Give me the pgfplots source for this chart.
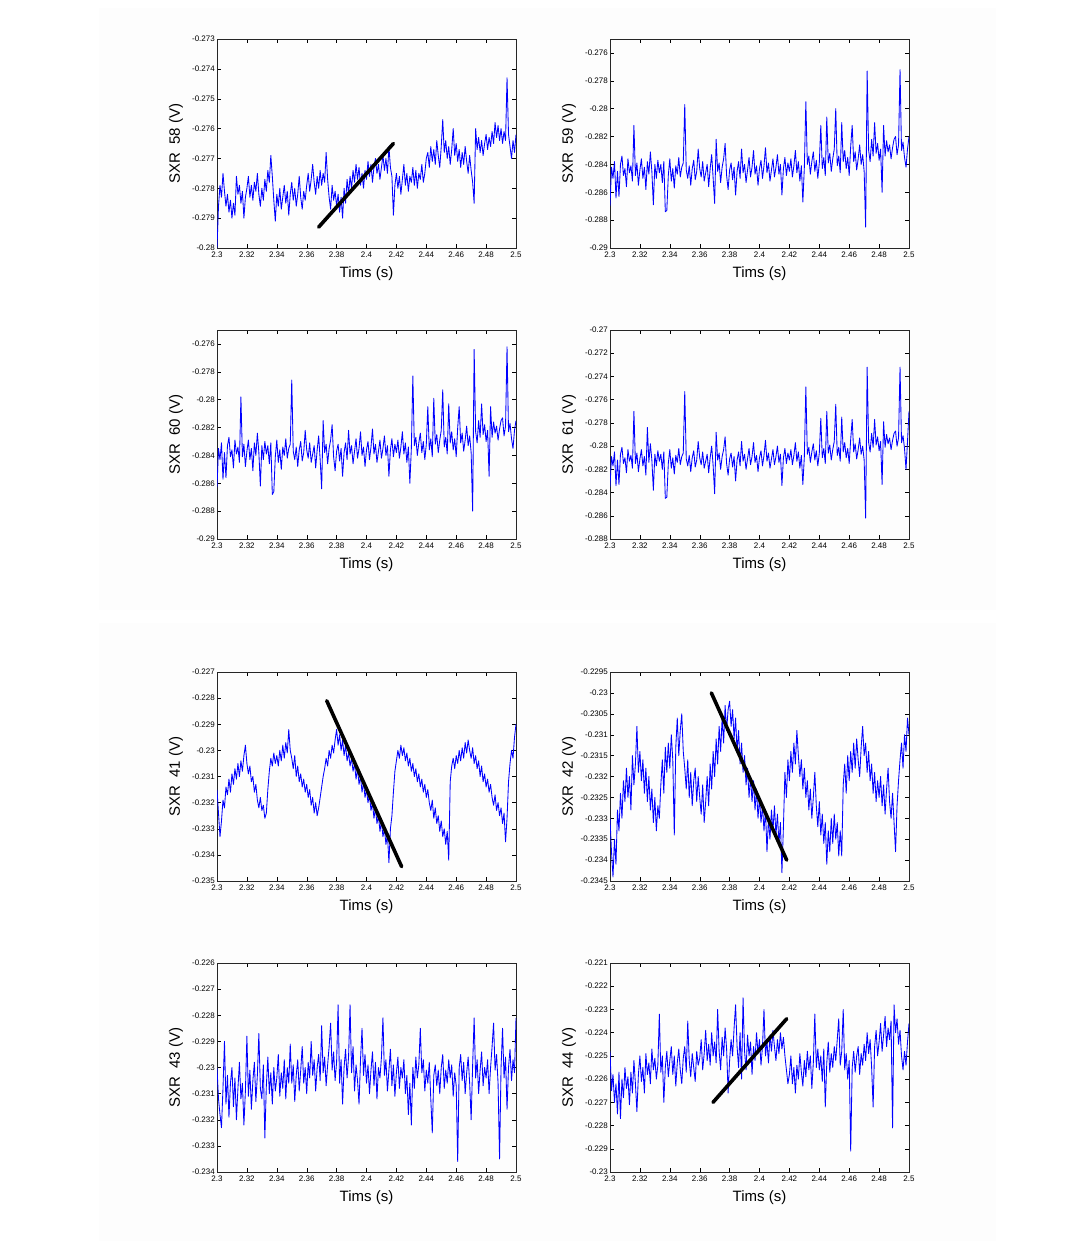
\documentclass[border=0pt]{standalone}
\usepackage{fontspec}
\setmainfont{Liberation Sans}
\usepackage{pgfplots}
\usepackage{pgfplotstable}
\pgfplotsset{compat=1.18}
\definecolor{bgc}{RGB}{253,253,253}
\definecolor{mblue}{RGB}{0,0,255}
\pgfplotstableread{
t s58 s59 s60 s61 s41 s42 s43 s44
2.300 -.2800 -.2870 -.2863 -.2835 -.2315 -.2330 -.2300 -.2248
2.301 -.2786 -.2842 -.2835 -.2809 -.2324 -.2338 -.2312 -.2265
2.302 -.2779 -.2850 -.2843 -.2817 -.2333 -.2344 -.2318 -.2258
2.303 -.2783 -.2838 -.2831 -.2805 -.2327 -.2335 -.2323 -.2270
2.304 -.2775 -.2864 -.2857 -.2834 -.2319 -.2341 -.2308 -.2262
2.305 -.2781 -.2845 -.2838 -.2812 -.2322 -.2328 -.2290 -.2275
2.306 -.2786 -.2863 -.2856 -.2833 -.2314 -.2333 -.2314 -.2257
2.307 -.2782 -.2840 -.2833 -.2807 -.2317 -.2324 -.2303 -.2277
2.308 -.2788 -.2834 -.2827 -.2801 -.2311 -.2330 -.2319 -.2260
2.309 -.2784 -.2848 -.2841 -.2815 -.2316 -.2321 -.2306 -.2268
2.310 -.2790 -.2843 -.2836 -.2810 -.2309 -.2326 -.2300 -.2255
2.311 -.2785 -.2856 -.2849 -.2823 -.2313 -.2318 -.2315 -.2264
2.312 -.2789 -.2836 -.2829 -.2803 -.2307 -.2325 -.2304 -.2259
2.313 -.2776 -.2846 -.2839 -.2813 -.2311 -.2320 -.2320 -.2271
2.314 -.2782 -.2841 -.2834 -.2808 -.2305 -.2328 -.2308 -.2257
2.315 -.2779 -.2852 -.2845 -.2819 -.2310 -.2315 -.2298 -.2266
2.316 -.2785 -.2812 -.2798 -.2770 -.2304 -.2322 -.2312 -.2252
2.317 -.2781 -.2848 -.2841 -.2815 -.2308 -.2317 -.2306 -.2262
2.318 -.2790 -.2839 -.2832 -.2806 -.2302 -.2308 -.2322 -.2274
2.319 -.2783 -.2855 -.2848 -.2822 -.2298 -.2319 -.2309 -.2258
2.320 -.2780 -.2844 -.2837 -.2811 -.2305 -.2314 -.2288 -.2250
2.321 -.2776 -.2836 -.2829 -.2803 -.2309 -.2321 -.2311 -.2261
2.322 -.2783 -.2850 -.2843 -.2817 -.2306 -.2316 -.2301 -.2255
2.323 -.2779 -.2842 -.2835 -.2809 -.2312 -.2324 -.2316 -.2266
2.324 -.2784 -.2858 -.2851 -.2825 -.2310 -.2318 -.2305 -.2249
2.325 -.2778 -.2838 -.2831 -.2784 -.2316 -.2326 -.2298 -.2258
2.326 -.2781 -.2847 -.2840 -.2814 -.2313 -.2320 -.2313 -.2253
2.327 -.2775 -.2831 -.2824 -.2798 -.2319 -.2328 -.2303 -.2262
2.328 -.2782 -.2845 -.2838 -.2812 -.2322 -.2323 -.2287 -.2247
2.329 -.2786 -.2869 -.2862 -.2838 -.2318 -.2331 -.2308 -.2256
2.330 -.2780 -.2840 -.2833 -.2807 -.2323 -.2325 -.2312 -.2251
2.331 -.2784 -.2850 -.2843 -.2817 -.2321 -.2333 -.2299 -.2260
2.332 -.2777 -.2837 -.2830 -.2804 -.2326 -.2327 -.2327 -.2254
2.333 -.2781 -.2846 -.2839 -.2813 -.2324 -.2330 -.2307 -.2232
2.334 -.2774 -.2840 -.2833 -.2807 -.2315 -.2322 -.2296 -.2257
2.335 -.2778 -.2853 -.2846 -.2820 -.2308 -.2316 -.2310 -.2250
2.336 -.2769 -.2838 -.2831 -.2805 -.2303 -.2324 -.2302 -.2270
2.337 -.2776 -.2874 -.2868 -.2845 -.2306 -.2313 -.2314 -.2255
2.338 -.2784 -.2873 -.2866 -.2844 -.2301 -.2319 -.2300 -.2248
2.339 -.2791 -.2848 -.2841 -.2815 -.2305 -.2312 -.2309 -.2259
2.340 -.2782 -.2836 -.2829 -.2803 -.2302 -.2318 -.2304 -.2252
2.341 -.2786 -.2852 -.2845 -.2819 -.2306 -.2310 -.2295 -.2246
2.342 -.2780 -.2843 -.2836 -.2810 -.2300 -.2316 -.2311 -.2258
2.343 -.2787 -.2857 -.2850 -.2824 -.2304 -.2334 -.2302 -.2250
2.344 -.2783 -.2841 -.2834 -.2808 -.2298 -.2313 -.2308 -.2263
2.345 -.2779 -.2847 -.2840 -.2814 -.2303 -.2306 -.2297 -.2253
2.346 -.2785 -.2835 -.2828 -.2802 -.2297 -.2315 -.2312 -.2247
2.347 -.2781 -.2849 -.2842 -.2816 -.2301 -.2309 -.2300 -.2256
2.348 -.2789 -.2842 -.2835 -.2809 -.2292 -.2305 -.2306 -.2262
2.349 -.2782 -.2839 -.2832 -.2806 -.2300 -.2314 -.2291 -.2251
2.350 -.2778 -.2797 -.2786 -.2753 -.2303 -.2318 -.2306 -.2246
2.351 -.2784 -.2844 -.2837 -.2811 -.2307 -.2323 -.2299 -.2257
2.352 -.2780 -.2850 -.2843 -.2817 -.2302 -.2316 -.2313 -.2235
2.353 -.2786 -.2841 -.2834 -.2808 -.2310 -.2325 -.2303 -.2252
2.354 -.2782 -.2855 -.2848 -.2822 -.2306 -.2319 -.2297 -.2259
2.355 -.2776 -.2843 -.2836 -.2810 -.2312 -.2327 -.2309 -.2249
2.356 -.2783 -.2837 -.2830 -.2804 -.2309 -.2321 -.2301 -.2255
2.357 -.2787 -.2851 -.2844 -.2818 -.2314 -.2318 -.2292 -.2261
2.358 -.2781 -.2845 -.2838 -.2812 -.2311 -.2326 -.2306 -.2248
2.359 -.2784 -.2829 -.2822 -.2796 -.2316 -.2320 -.2300 -.2254
2.360 -.2779 -.2843 -.2836 -.2810 -.2313 -.2325 -.2310 -.2251
2.361 -.2775 -.2849 -.2842 -.2816 -.2318 -.2329 -.2298 -.2243
2.362 -.2781 -.2838 -.2831 -.2805 -.2315 -.2322 -.2304 -.2256
2.363 -.2777 -.2852 -.2845 -.2819 -.2321 -.2331 -.2290 -.2249
2.364 -.2772 -.2846 -.2839 -.2813 -.2318 -.2326 -.2303 -.2239
2.365 -.2778 -.2840 -.2833 -.2807 -.2324 -.2320 -.2297 -.2252
2.366 -.2782 -.2856 -.2849 -.2823 -.2320 -.2327 -.2309 -.2245
2.367 -.2776 -.2843 -.2836 -.2810 -.2325 -.2317 -.2300 -.2254
2.368 -.2780 -.2833 -.2826 -.2800 -.2322 -.2323 -.2295 -.2240
2.369 -.2774 -.2850 -.2843 -.2817 -.2318 -.2314 -.2305 -.2250
2.370 -.2779 -.2868 -.2864 -.2841 -.2314 -.2320 -.2284 -.2244
2.371 -.2775 -.2822 -.2815 -.2788 -.2310 -.2311 -.2302 -.2253
2.372 -.2778 -.2845 -.2838 -.2812 -.2307 -.2317 -.2296 -.2230
2.373 -.2768 -.2839 -.2832 -.2806 -.2303 -.2308 -.2307 -.2248
2.374 -.2777 -.2853 -.2846 -.2820 -.2306 -.2314 -.2299 -.2256
2.375 -.2783 -.2842 -.2835 -.2809 -.2300 -.2306 -.2292 -.2242
2.376 -.2787 -.2836 -.2829 -.2803 -.2303 -.2312 -.2283 -.2250
2.377 -.2779 -.2825 -.2818 -.2792 -.2298 -.2303 -.2301 -.2238
2.378 -.2784 -.2848 -.2841 -.2815 -.2301 -.2309 -.2294 -.2247
2.379 -.2781 -.2858 -.2851 -.2825 -.2296 -.2304 -.2305 -.2266
2.380 -.2786 -.2844 -.2837 -.2811 -.2292 -.2302 -.2298 -.2252
2.381 -.2782 -.2839 -.2832 -.2806 -.2298 -.2308 -.2276 -.2243
2.382 -.2788 -.2851 -.2844 -.2818 -.2294 -.2304 -.2306 -.2250
2.383 -.2783 -.2842 -.2835 -.2809 -.2300 -.2311 -.2297 -.2238
2.384 -.2790 -.2862 -.2855 -.2830 -.2296 -.2306 -.2314 -.2228
2.385 -.2780 -.2845 -.2838 -.2812 -.2302 -.2314 -.2300 -.2246
2.386 -.2785 -.2838 -.2831 -.2805 -.2298 -.2309 -.2293 -.2255
2.387 -.2777 -.2850 -.2843 -.2817 -.2304 -.2317 -.2304 -.2240
2.388 -.2782 -.2829 -.2822 -.2796 -.2301 -.2312 -.2296 -.2260
2.389 -.2776 -.2846 -.2839 -.2813 -.2306 -.2319 -.2276 -.2225
2.390 -.2780 -.2840 -.2833 -.2807 -.2303 -.2315 -.2302 -.2248
2.391 -.2774 -.2853 -.2846 -.2820 -.2308 -.2322 -.2292 -.2256
2.392 -.2778 -.2844 -.2837 -.2811 -.2305 -.2318 -.2309 -.2241
2.393 -.2772 -.2835 -.2828 -.2802 -.2311 -.2325 -.2299 -.2250
2.394 -.2777 -.2849 -.2842 -.2816 -.2307 -.2320 -.2305 -.2244
2.395 -.2773 -.2842 -.2835 -.2809 -.2313 -.2326 -.2314 -.2258
2.396 -.2779 -.2830 -.2823 -.2797 -.2310 -.2321 -.2297 -.2246
2.397 -.2775 -.2847 -.2840 -.2814 -.2316 -.2328 -.2285 -.2252
2.398 -.2780 -.2841 -.2834 -.2808 -.2312 -.2323 -.2303 -.2240
2.399 -.2774 -.2855 -.2848 -.2822 -.2318 -.2330 -.2295 -.2249
2.400 -.2777 -.2843 -.2836 -.2810 -.2315 -.2325 -.2306 -.2243
2.401 -.2771 -.2837 -.2830 -.2804 -.2320 -.2331 -.2299 -.2254
2.402 -.2776 -.2850 -.2843 -.2817 -.2317 -.2327 -.2310 -.2246
2.403 -.2772 -.2841 -.2834 -.2808 -.2323 -.2333 -.2301 -.2230
2.404 -.2778 -.2828 -.2821 -.2795 -.2320 -.2328 -.2294 -.2250
2.405 -.2773 -.2846 -.2839 -.2813 -.2326 -.2338 -.2307 -.2244
2.406 -.2770 -.2839 -.2832 -.2806 -.2322 -.2330 -.2298 -.2253
2.407 -.2775 -.2852 -.2845 -.2819 -.2328 -.2335 -.2312 -.2241
2.408 -.2772 -.2844 -.2837 -.2811 -.2325 -.2328 -.2300 -.2248
2.409 -.2777 -.2836 -.2829 -.2803 -.2331 -.2333 -.2304 -.2239
2.410 -.2773 -.2849 -.2842 -.2816 -.2327 -.2327 -.2296 -.2246
2.411 -.2769 -.2842 -.2835 -.2809 -.2333 -.2334 -.2281 -.2252
2.412 -.2774 -.2833 -.2826 -.2800 -.2330 -.2329 -.2303 -.2243
2.413 -.2770 -.2847 -.2840 -.2814 -.2336 -.2336 -.2297 -.2249
2.414 -.2775 -.2840 -.2833 -.2807 -.2332 -.2331 -.2309 -.2240
2.415 -.2766 -.2862 -.2855 -.2834 -.2343 -.2343 -.2301 -.2247
2.416 -.2773 -.2843 -.2836 -.2810 -.2330 -.2332 -.2293 -.2242
2.417 -.2776 -.2835 -.2828 -.2802 -.2325 -.2319 -.2307 -.2250
2.418 -.2789 -.2848 -.2841 -.2815 -.2316 -.2325 -.2299 -.2256
2.419 -.2779 -.2839 -.2832 -.2806 -.2308 -.2316 -.2311 -.2262
2.420 -.2775 -.2845 -.2838 -.2812 -.2304 -.2321 -.2302 -.2258
2.421 -.2780 -.2836 -.2829 -.2803 -.2300 -.2314 -.2296 -.2250
2.422 -.2776 -.2849 -.2842 -.2816 -.2303 -.2319 -.2308 -.2262
2.423 -.2782 -.2841 -.2834 -.2808 -.2298 -.2312 -.2300 -.2255
2.424 -.2777 -.2830 -.2823 -.2797 -.2302 -.2317 -.2304 -.2266
2.425 -.2772 -.2846 -.2839 -.2813 -.2299 -.2309 -.2297 -.2254
2.426 -.2779 -.2838 -.2831 -.2805 -.2304 -.2315 -.2310 -.2260
2.427 -.2775 -.2852 -.2845 -.2819 -.2301 -.2320 -.2303 -.2249
2.428 -.2781 -.2841 -.2834 -.2808 -.2306 -.2316 -.2318 -.2257
2.429 -.2776 -.2867 -.2860 -.2833 -.2303 -.2323 -.2306 -.2263
2.430 -.2778 -.2842 -.2835 -.2809 -.2308 -.2318 -.2322 -.2252
2.431 -.2773 -.2795 -.2783 -.2749 -.2305 -.2325 -.2300 -.2259
2.432 -.2779 -.2840 -.2833 -.2807 -.2310 -.2321 -.2308 -.2248
2.433 -.2774 -.2834 -.2827 -.2801 -.2307 -.2328 -.2296 -.2256
2.434 -.2780 -.2847 -.2840 -.2814 -.2312 -.2323 -.2304 -.2250
2.435 -.2775 -.2838 -.2831 -.2805 -.2309 -.2330 -.2299 -.2264
2.436 -.2777 -.2831 -.2824 -.2798 -.2314 -.2325 -.2285 -.2253
2.437 -.2772 -.2845 -.2838 -.2812 -.2311 -.2319 -.2302 -.2232
2.438 -.2778 -.2837 -.2830 -.2804 -.2316 -.2327 -.2297 -.2255
2.439 -.2775 -.2850 -.2843 -.2817 -.2313 -.2332 -.2309 -.2247
2.440 -.2770 -.2839 -.2832 -.2806 -.2318 -.2326 -.2301 -.2256
2.441 -.2768 -.2812 -.2805 -.2776 -.2315 -.2334 -.2306 -.2250
2.442 -.2773 -.2843 -.2836 -.2810 -.2320 -.2329 -.2298 -.2261
2.443 -.2766 -.2835 -.2828 -.2802 -.2323 -.2336 -.2312 -.2247
2.444 -.2771 -.2848 -.2841 -.2815 -.2319 -.2331 -.2325 -.2272
2.445 -.2767 -.2806 -.2799 -.2770 -.2326 -.2341 -.2303 -.2253
2.446 -.2772 -.2839 -.2832 -.2806 -.2322 -.2333 -.2299 -.2244
2.447 -.2764 -.2832 -.2825 -.2799 -.2328 -.2338 -.2307 -.2257
2.448 -.2769 -.2845 -.2838 -.2812 -.2325 -.2330 -.2301 -.2249
2.449 -.2773 -.2836 -.2829 -.2803 -.2331 -.2336 -.2310 -.2255
2.450 -.2766 -.2829 -.2822 -.2796 -.2327 -.2329 -.2300 -.2246
2.451 -.2757 -.2800 -.2793 -.2764 -.2333 -.2335 -.2295 -.2252
2.452 -.2768 -.2841 -.2834 -.2808 -.2330 -.2331 -.2308 -.2243
2.453 -.2764 -.2834 -.2827 -.2801 -.2336 -.2339 -.2301 -.2234
2.454 -.2770 -.2846 -.2839 -.2813 -.2331 -.2333 -.2306 -.2254
2.455 -.2766 -.2810 -.2803 -.2775 -.2342 -.2339 -.2297 -.2248
2.456 -.2772 -.2838 -.2831 -.2805 -.2312 -.2322 -.2304 -.2230
2.457 -.2767 -.2830 -.2823 -.2797 -.2306 -.2317 -.2299 -.2256
2.458 -.2760 -.2843 -.2836 -.2810 -.2303 -.2324 -.2311 -.2249
2.459 -.2769 -.2835 -.2828 -.2802 -.2307 -.2315 -.2302 -.2260
2.460 -.2765 -.2848 -.2841 -.2815 -.2302 -.2321 -.2307 -.2252
2.461 -.2771 -.2827 -.2820 -.2794 -.2305 -.2314 -.2336 -.2291
2.462 -.2767 -.2812 -.2805 -.2777 -.2300 -.2319 -.2300 -.2255
2.463 -.2773 -.2838 -.2831 -.2805 -.2304 -.2312 -.2295 -.2248
2.464 -.2768 -.2831 -.2824 -.2798 -.2299 -.2318 -.2305 -.2257
2.465 -.2772 -.2844 -.2837 -.2811 -.2303 -.2311 -.2298 -.2250
2.466 -.2766 -.2836 -.2829 -.2803 -.2297 -.2316 -.2310 -.2246
2.467 -.2771 -.2826 -.2819 -.2793 -.2301 -.2320 -.2302 -.2258
2.468 -.2775 -.2840 -.2833 -.2807 -.2296 -.2313 -.2296 -.2249
2.469 -.2769 -.2833 -.2826 -.2800 -.2300 -.2308 -.2306 -.2254
2.470 -.2774 -.2845 -.2838 -.2812 -.2303 -.2315 -.2320 -.2245
2.471 -.2778 -.2885 -.2880 -.2862 -.2299 -.2312 -.2299 -.2252
2.472 -.2785 -.2773 -.2764 -.2732 -.2305 -.2319 -.2281 -.2240
2.473 -.2760 -.2830 -.2823 -.2797 -.2302 -.2314 -.2304 -.2249
2.474 -.2767 -.2838 -.2831 -.2805 -.2307 -.2321 -.2297 -.2243
2.475 -.2763 -.2822 -.2815 -.2789 -.2304 -.2317 -.2310 -.2255
2.476 -.2768 -.2834 -.2827 -.2801 -.2310 -.2324 -.2301 -.2272
2.477 -.2764 -.2810 -.2803 -.2777 -.2306 -.2319 -.2294 -.2246
2.478 -.2769 -.2832 -.2825 -.2799 -.2312 -.2326 -.2307 -.2239
2.479 -.2765 -.2825 -.2818 -.2792 -.2309 -.2321 -.2300 -.2250
2.480 -.2762 -.2837 -.2830 -.2804 -.2314 -.2325 -.2304 -.2244
2.481 -.2767 -.2829 -.2822 -.2796 -.2311 -.2320 -.2297 -.2236
2.482 -.2763 -.2860 -.2855 -.2833 -.2316 -.2327 -.2310 -.2248
2.483 -.2766 -.2812 -.2805 -.2779 -.2313 -.2322 -.2300 -.2241
2.484 -.2761 -.2834 -.2827 -.2801 -.2318 -.2329 -.2292 -.2233
2.485 -.2765 -.2823 -.2816 -.2790 -.2321 -.2323 -.2283 -.2246
2.486 -.2758 -.2831 -.2824 -.2798 -.2317 -.2318 -.2301 -.2238
2.487 -.2763 -.2826 -.2819 -.2793 -.2323 -.2326 -.2295 -.2243
2.488 -.2759 -.2836 -.2829 -.2803 -.2320 -.2330 -.2306 -.2235
2.489 -.2764 -.2828 -.2821 -.2795 -.2325 -.2324 -.2335 -.2281
2.490 -.2760 -.2822 -.2815 -.2789 -.2322 -.2331 -.2300 -.2228
2.491 -.2765 -.2820 -.2813 -.2787 -.2328 -.2338 -.2285 -.2240
2.492 -.2761 -.2833 -.2826 -.2800 -.2324 -.2327 -.2304 -.2234
2.493 -.2764 -.2826 -.2819 -.2793 -.2335 -.2321 -.2296 -.2245
2.494 -.2743 -.2772 -.2762 -.2732 -.2326 -.2316 -.2316 -.2239
2.495 -.2762 -.2830 -.2823 -.2797 -.2312 -.2312 -.2300 -.2250
2.496 -.2766 -.2824 -.2817 -.2791 -.2305 -.2318 -.2293 -.2256
2.497 -.2770 -.2835 -.2828 -.2802 -.2300 -.2310 -.2305 -.2248
2.498 -.2764 -.2842 -.2835 -.2820 -.2303 -.2314 -.2297 -.2254
2.499 -.2768 -.2829 -.2822 -.2796 -.2295 -.2306 -.2302 -.2244
2.500 -.2762 -.2820 -.2815 -.2770 -.2290 -.2310 -.2281 -.2236
}\sxr

\pgfplotsset{
  sxr/.style={
    scale only axis, width=299pt, height=209pt, anchor=north west,
    xmin=2.3, xmax=2.5,
    xtick={2.3,2.32,2.34,2.36,2.38,2.4,2.42,2.44,2.46,2.48,2.5},
    tick align=inside, major tick length=4pt,
    tick style={black, line width=0.4pt},
    axis line style={black!85, line width=0.5pt},
    scaled x ticks=false, scaled y ticks=false,
    /pgf/number format/assume math mode=true,
    xticklabel style={/pgf/number format/fixed, /pgf/number format/precision=2,
      font=\fontsize{8}{9}\selectfont, inner sep=2pt, yshift=-2pt},
    yticklabel style={/pgf/number format/fixed, /pgf/number format/precision=4,
      font=\fontsize{8}{9}\selectfont, inner sep=2pt},
    xlabel={Tims (s)},
    xlabel style={at={(axis description cs:0.5,-0.122)}, anchor=center,
      font=\fontsize{15}{17}\selectfont},
    ylabel style={at={(axis description cs:-0.137,0.5)}, anchor=center,
      font=\fontsize{15}{17}\selectfont},
  },
  sig/.style={mblue, line width=0.85pt, line join=round, no markers},
  fit/.style={black, line width=3.6pt, line cap=round, no markers},
}

\begin{document}
\begin{tikzpicture}
\path[use as bounding box] (0pt,0pt) rectangle (1078pt,-1248pt);
\fill[bgc] (99pt,-8pt) rectangle (996pt,-610pt);
\fill[bgc] (99pt,-623pt) rectangle (996pt,-1241pt);

% SXR 58
\begin{axis}[sxr, at={(217pt,-39pt)},
  ymin=-0.28, ymax=-0.273,
  ytick={-0.28,-0.279,-0.278,-0.277,-0.276,-0.275,-0.274,-0.273},
  ylabel={SXR\ \ 58 (V)}]
\addplot[sig] table[x=t, y=s58] {\sxr};
\addplot[fit] coordinates {(2.368,-0.2793) (2.418,-0.2765)};
\end{axis}

% SXR 59
\begin{axis}[sxr, at={(610pt,-39pt)},
  ymin=-0.29, ymax=-0.275,
  ytick={-0.29,-0.288,-0.286,-0.284,-0.282,-0.28,-0.278,-0.276},
  ylabel={SXR\ \ 59 (V)}]
\addplot[sig] table[x=t, y=s59] {\sxr};
\end{axis}

% SXR 60
\begin{axis}[sxr, at={(217pt,-330pt)},
  ymin=-0.29, ymax=-0.275,
  ytick={-0.29,-0.288,-0.286,-0.284,-0.282,-0.28,-0.278,-0.276},
  ylabel={SXR\ \ 60 (V)}]
\addplot[sig] table[x=t, y=s60] {\sxr};
\end{axis}

% SXR 61
\begin{axis}[sxr, at={(610pt,-330pt)},
  ymin=-0.288, ymax=-0.27,
  ytick={-0.288,-0.286,-0.284,-0.282,-0.28,-0.278,-0.276,-0.274,-0.272,-0.27},
  ylabel={SXR\ \ 61 (V)}]
\addplot[sig] table[x=t, y=s61] {\sxr};
\end{axis}

% SXR 41
\begin{axis}[sxr, at={(217pt,-672pt)},
  ymin=-0.235, ymax=-0.227,
  ytick={-0.235,-0.234,-0.233,-0.232,-0.231,-0.23,-0.229,-0.228,-0.227},
  ylabel={SXR\ \ 41 (V)}]
\addplot[sig] table[x=t, y=s41] {\sxr};
\addplot[fit] coordinates {(2.3734,-0.2281) (2.4235,-0.23445)};
\end{axis}

% SXR 42
\begin{axis}[sxr, at={(610pt,-672pt)},
  ymin=-0.2345, ymax=-0.2295,
  ytick={-0.2345,-0.234,-0.2335,-0.233,-0.2325,-0.232,-0.2315,-0.231,-0.2305,-0.23,-0.2295},
  ylabel={SXR\ \ 42 (V)}]
\addplot[sig] table[x=t, y=s42] {\sxr};
\addplot[fit] coordinates {(2.3678,-0.2300) (2.4182,-0.2340)};
\end{axis}

% SXR 43
\begin{axis}[sxr, at={(217pt,-963pt)},
  ymin=-0.234, ymax=-0.226,
  ytick={-0.234,-0.233,-0.232,-0.231,-0.23,-0.229,-0.228,-0.227,-0.226},
  ylabel={SXR\ \ 43 (V)}]
\addplot[sig] table[x=t, y=s43] {\sxr};
\end{axis}

% SXR 44
\begin{axis}[sxr, at={(610pt,-963pt)},
  ymin=-0.23, ymax=-0.221,
  ytick={-0.23,-0.229,-0.228,-0.227,-0.226,-0.225,-0.224,-0.223,-0.222,-0.221},
  ylabel={SXR\ \ 44 (V)}]
\addplot[sig] table[x=t, y=s44] {\sxr};
\addplot[fit] coordinates {(2.3689,-0.2270) (2.4182,-0.2234)};
\end{axis}
\end{tikzpicture}
\end{document}
